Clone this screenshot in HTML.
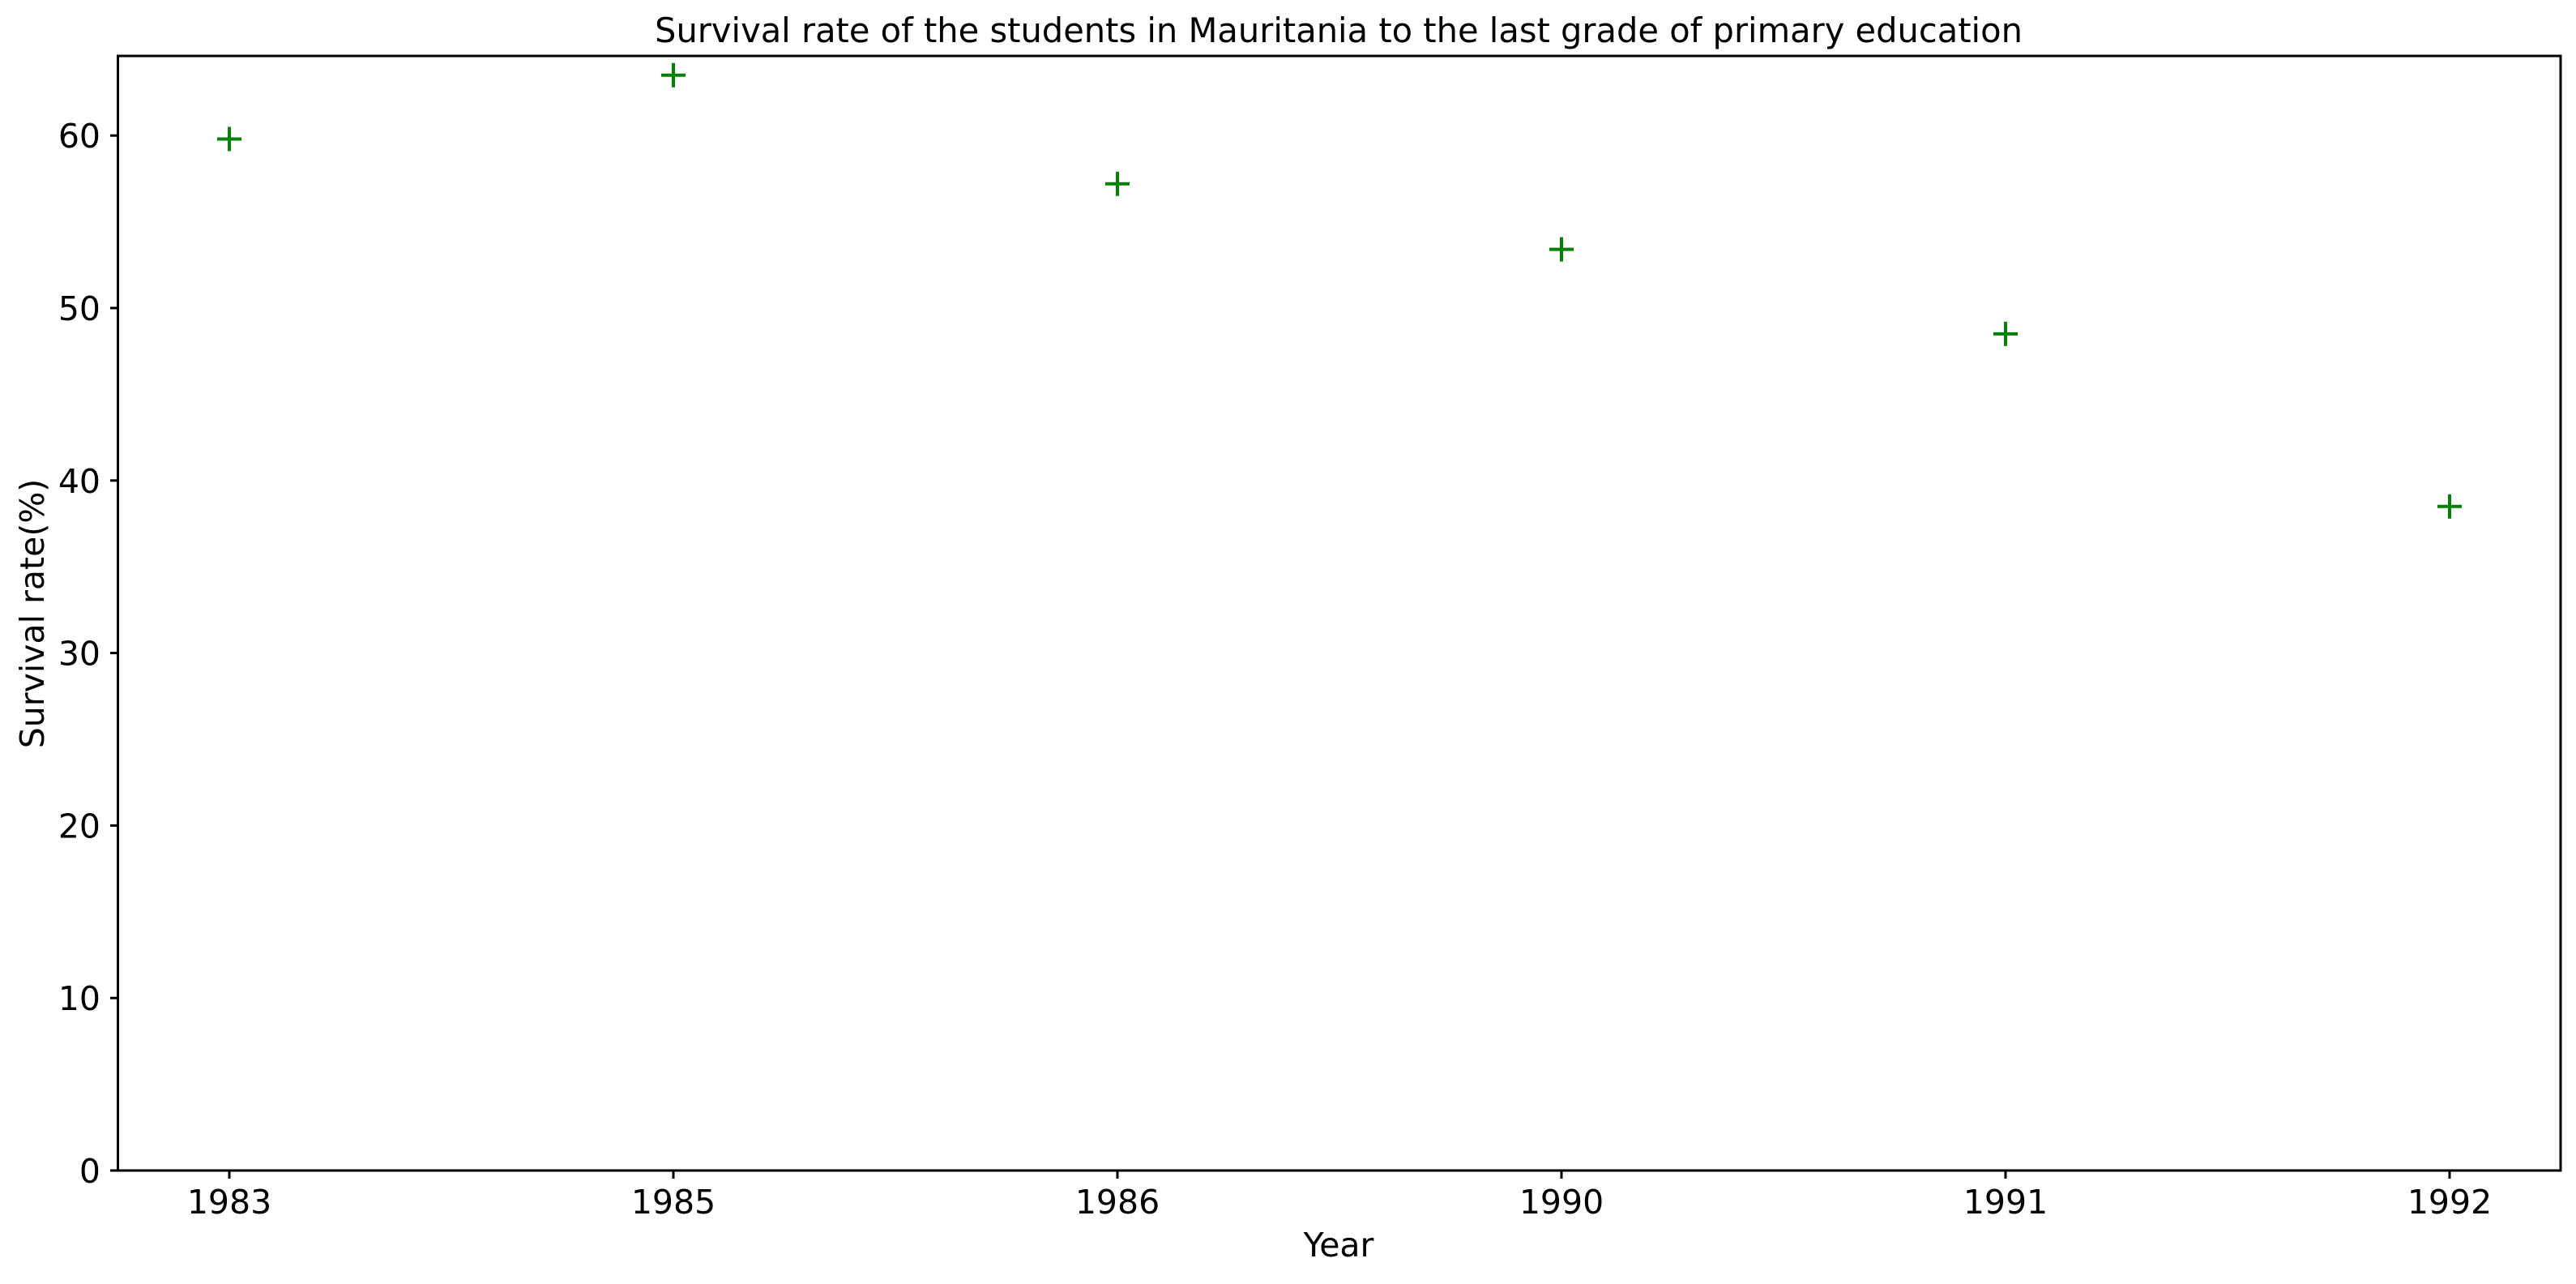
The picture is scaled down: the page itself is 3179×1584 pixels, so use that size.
<!DOCTYPE html>
<html><head><meta charset="utf-8"><style>
html,body{margin:0;padding:0;background:#fff}
svg text{font-family:"DejaVu Sans","Liberation Sans",sans-serif;fill:#000}
</style></head><body>
<svg id="chart" width="3179" height="1579" xmlns="http://www.w3.org/2000/svg">
<text x="1652" y="52" font-size="41.6" text-anchor="middle">Survival rate of the students in Mauritania to the last grade of primary education</text>
<g id="yticks"></g>
<g id="xticks"></g>
<g id="points"></g>
<rect x="145.5" y="69" width="3014.5" height="1375" fill="none" stroke="#000" stroke-width="3"/>
<text x="1652" y="1550" font-size="41" text-anchor="middle">Year</text>
<text x="0" y="0" font-size="41" text-anchor="middle" transform="translate(54,757) rotate(-90)">Survival rate(%)</text>
</svg>
<script>
const categories = ["1983","1985","1986","1990","1991","1992"];
const values = [59.8, 63.5, 57.2, 53.4, 48.5, 38.5];
const yTicks = [0,10,20,30,40,50,60];
const NS="http://www.w3.org/2000/svg";
const x0=283, x1=3023, yBase=1444, pxPerUnit=21.28;
function xPos(i){return x0+(x1-x0)*i/(categories.length-1);}
function yPos(v){return yBase-v*pxPerUnit;}
function mk(tag,attrs,parent){const e=document.createElementNS(NS,tag);for(const k in attrs)e.setAttribute(k,attrs[k]);parent.appendChild(e);return e;}
const yg=document.getElementById('yticks'), xg=document.getElementById('xticks'), pg=document.getElementById('points');
yTicks.forEach(t=>{
  const y=yPos(t);
  const l=mk('line',{x1:136,x2:145.5,y1:y,y2:y,stroke:'#000','stroke-width':3},yg);
  
  
  const tx=mk('text',{x:124,y:y+15,'font-size':41,'text-anchor':'end'},yg);
  tx.textContent=t;
  
  
});
categories.forEach((c,i)=>{
  const x=xPos(i);
  const l=mk('line',{x1:x,x2:x,y1:1444,y2:1454,stroke:'#000','stroke-width':3},xg);
  
  
  const tx=mk('text',{x:x,y:1497,'font-size':41,'text-anchor':'middle'},xg);
  tx.textContent=c;
  
  
});
values.forEach((v,i)=>{
  const x=xPos(i), y=yPos(v), r=15;
  const p=mk('path',{d:`M${x-r},${y}H${x+r}M${x},${y-r}V${y+r}`,stroke:'#008000','stroke-width':4,fill:'none'},pg);
  
  
});
</script>
</body></html>
